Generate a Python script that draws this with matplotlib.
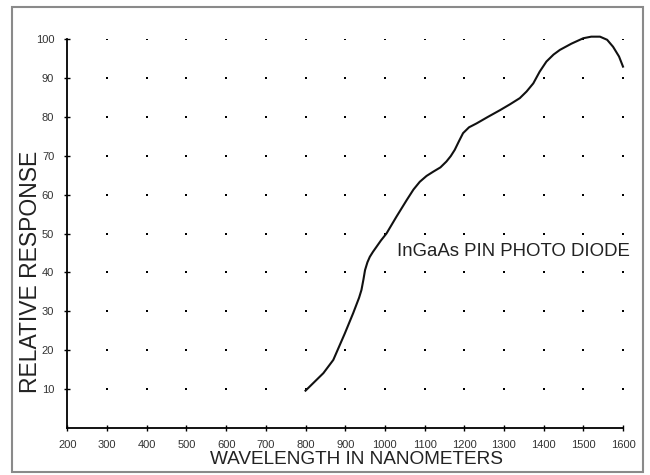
import matplotlib
matplotlib.use("Agg")
import matplotlib.pyplot as plt
import numpy as np
from matplotlib.patches import Rectangle

plt.rcParams['font.family'] = ['Liberation Sans', 'DejaVu Sans']

# response curve
wavelength = [800, 822, 845, 870, 899, 920, 935, 941, 946, 950, 956, 962, 970, 979, 990,
              1004, 1029, 1055, 1072, 1088, 1105, 1122, 1140, 1155, 1166, 1176, 1187,
              1197, 1212, 1231, 1260, 1290, 1315, 1340, 1357, 1374, 1390, 1407, 1425,
              1441, 1470, 1500, 1520, 1542, 1560, 1575, 1590, 1600]
response = [9.6, 11.8, 14.1, 17.5, 24.3, 29.5, 33.5, 35.5, 38.2, 40.6, 42.6, 44.0, 45.3,
            46.6, 48.2, 50.0, 54.3, 58.6, 61.3, 63.3, 64.8, 65.9, 67.0, 68.5, 69.9,
            71.5, 73.8, 75.8, 77.3, 78.3, 80.0, 81.7, 83.2, 84.8, 86.5, 88.6, 91.6,
            94.2, 96.0, 97.2, 98.8, 100.2, 100.6, 100.6, 99.8, 98.0, 95.5, 92.9]

x_ticks = list(range(200, 1700, 100))
y_ticks = list(range(10, 110, 10))
dot_x = list(range(300, 1700, 100))
dot_y = list(range(10, 110, 10))

fig = plt.figure(figsize=(6.5, 4.75), dpi=100)
ax = fig.add_axes([67.4 / 650, 47 / 475, (623 - 67.4) / 650, (428 - 39) / 475])

# grid of dots
gx, gy = np.meshgrid(dot_x, dot_y)
ax.scatter(gx.ravel(), gy.ravel(), s=4, color='black', marker='s', linewidths=0, zorder=2)

ax.plot(wavelength, response, color='#111111', lw=1.5, zorder=3, clip_on=False)

ax.set_xlim(200, 1600)
ax.set_ylim(0, 100)
ax.set_xticks(x_ticks)
ax.set_yticks(y_ticks)
ax.spines['top'].set_visible(False)
ax.spines['right'].set_visible(False)
for s in ['left', 'bottom']:
    ax.spines[s].set_linewidth(1.3)
ax.tick_params(direction='inout', length=5, width=1, labelsize=8,
               labelcolor='#333333')
ax.tick_params(axis='y', pad=7)
ax.tick_params(axis='x', pad=6)

ax.text(1030, 45.3, 'InGaAs PIN PHOTO DIODE', fontsize=13.4, color='#222222',
        va='center', ha='left')

fig.text(357 / 650, 1 - 460 / 475, 'WAVELENGTH IN NANOMETERS', fontsize=13.7,
         color='#222222', ha='center', va='center')
fig.text(31 / 650, 1 - 272 / 475, 'RELATIVE RESPONSE', fontsize=16.5,
         color='#222222', ha='center', va='center', rotation=90)

# outer frame
fig.patches.append(Rectangle((12 / 650, 3 / 475), 631 / 650, 465 / 475,
                             transform=fig.transFigure, fill=False,
                             edgecolor='#8a8a8a', lw=1.5))

fig.savefig('out.png', dpi=100)
